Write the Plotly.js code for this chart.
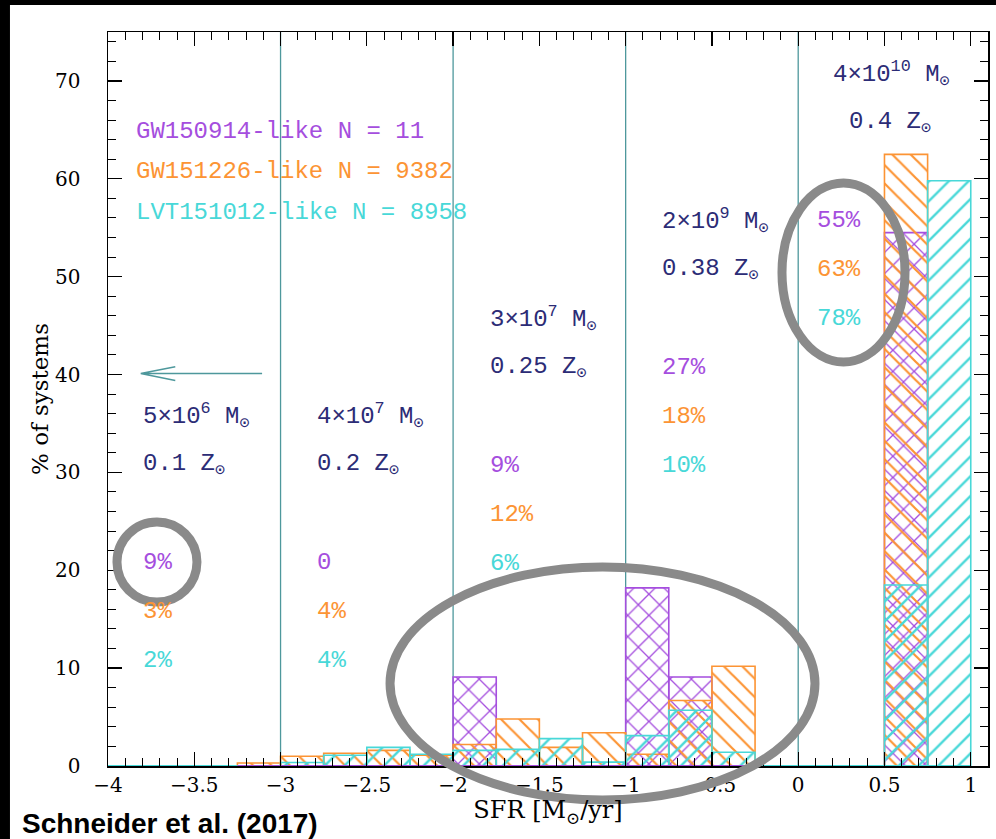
<!DOCTYPE html>
<html>
<head>
<meta charset="utf-8">
<script src="https://cdn.plot.ly/plotly-3.0.1.min.js"></script>
<style>
html,body{margin:0;padding:0;background:#fff;}
#chart{width:996px;height:839px;}
</style>
</head>
<body>
<div id="chart"></div>
<script>
// Bin centres (bin width 0.25 in log SFR)
const binCenters = [-3.125, -2.875, -2.625, -2.375, -2.125, -1.875, -1.625, -1.375, -1.125, -0.875, -0.625, -0.375, -0.125, 0.125, 0.375, 0.625, 0.875];
const gw150914 = [0, 0, 0, 0, 0, 9.1, 0, 0, 0, 18.2, 9.1, 0, 0, 0, 0, 54.5, 0];
const gw151226 = [0.3, 1.0, 1.3, 1.6, 1.1, 2.2, 4.8, 1.9, 3.4, 1.2, 6.7, 10.2, 0, 0, 0, 62.5, 0];
const lvt151012 = [0, 0.35, 1.1, 1.9, 1.2, 1.6, 1.7, 2.8, 0.4, 3.1, 5.7, 1.4, 0, 0, 0, 18.5, 59.8];

// histogram extents (zero-level lines)
const purpleSpan = [-3.25, -0.25];
const cyanSpan = [-4, 1];

// region separators
const regionEdges = [-3, -2, -1, 0];

// legend labels
const legendLabels = ["GW150914-like N = 11", "GW151226-like N = 9382", "LVT151012-like N = 8958"];

// host galaxy labels per region
const massLabels = ["5×10<sup>6</sup> M<sub>⊙</sub>", "4×10<sup>7</sup> M<sub>⊙</sub>", "3×10<sup>7</sup> M<sub>⊙</sub>", "2×10<sup>9</sup> M<sub>⊙</sub>", "4×10<sup>10</sup> M<sub>⊙</sub>"];
const metalLabels = ["0.1 Z<sub>⊙</sub>", "0.2 Z<sub>⊙</sub>", "0.25 Z<sub>⊙</sub>", "0.38 Z<sub>⊙</sub>", "0.4 Z<sub>⊙</sub>"];
const pctPurple = ["9%", "0", "9%", "27%", "55%"];
const pctOrange = ["3%", "4%", "12%", "18%", "63%"];
const pctCyan = ["2%", "4%", "6%", "10%", "78%"];

// positions of text blocks (data coords)
const pctX = [-3.81, -2.80, -1.80, -0.80, 0.10];
const massY = [35.8, 35.8, 45.7, 55.7, 70.7];
const massX = [-3.81, -2.80, -1.80, -0.80, 0.19];
const metalX = [-3.81, -2.80, -1.80, -0.80, 0.28];
const pctTopY = [20.8, 20.8, 30.7, 40.7, 55.7];

const PURPLE = "rgb(165,78,222)";
const ORANGE = "rgb(252,148,52)";
const CYAN = "rgb(72,216,216)";
const NAVY = "rgb(44,44,118)";
const TEAL = "rgb(78,152,156)";
const GRAY = "rgb(138,138,138)";

function barTrace(y, color, shape, size) {
  return {
    type: "bar", x: binCenters, y: y, width: 0.25,
    marker: {
      color: "rgba(0,0,0,0)",
      line: {color: color, width: 1.6},
      pattern: {shape: shape, fgcolor: color, fgopacity: 1, bgcolor: "rgba(0,0,0,0)", size: size, solidity: 0.17, fillmode: "overlay"}
    },
    hoverinfo: "skip"
  };
}

const traces = [
  {type: "scatter", mode: "lines", x: cyanSpan, y: [0, 0], line: {color: CYAN, width: 2}, cliponaxis: false, hoverinfo: "skip"},
  {type: "scatter", mode: "lines", x: purpleSpan, y: [0, 0], line: {color: PURPLE, width: 2}, cliponaxis: false, hoverinfo: "skip"},
  barTrace(gw150914, PURPLE, "x", 15),
  barTrace(gw151226, ORANGE, "\\", 13),
  barTrace(lvt151012, CYAN, "/", 14)
];

const monoFont = {family: "Liberation Mono, DejaVu Sans Mono, monospace", size: 24};
const annotations = [];
const legendColors = [PURPLE, ORANGE, CYAN];
const legendY = [64.8, 60.7, 56.6];
legendLabels.forEach((t, i) => annotations.push({
  x: -3.85, y: legendY[i], xref: "x", yref: "y", text: t, showarrow: false,
  xanchor: "left", yanchor: "middle", font: Object.assign({}, monoFont, {color: legendColors[i]})
}));
for (let i = 0; i < 5; i++) {
  annotations.push({x: massX[i], y: massY[i], xref: "x", yref: "y", text: massLabels[i], showarrow: false,
    xanchor: "left", yanchor: "middle", font: Object.assign({}, monoFont, {color: NAVY})});
  annotations.push({x: metalX[i], y: massY[i] - 5, xref: "x", yref: "y", text: metalLabels[i], showarrow: false,
    xanchor: "left", yanchor: "middle", font: Object.assign({}, monoFont, {color: NAVY})});
  [[pctPurple, PURPLE], [pctOrange, ORANGE], [pctCyan, CYAN]].forEach((p, j) => {
    annotations.push({x: pctX[i], y: pctTopY[i] - 5 * j, xref: "x", yref: "y", text: p[0][i], showarrow: false,
      xanchor: "left", yanchor: "middle", font: Object.assign({}, monoFont, {color: p[1]})});
  });
}
annotations.push({x: -0.1, y: -0.078, xref: "paper", yref: "paper", text: "<b>Schneider et al. (2017)</b>",
  showarrow: false, xanchor: "left", yanchor: "middle",
  font: {family: "Liberation Sans, Arial, sans-serif", size: 28, color: "black"}});

const shapes = [];
regionEdges.forEach(e => shapes.push({type: "line", xref: "x", yref: "paper", x0: e, x1: e, y0: 0, y1: 1,
  line: {color: TEAL, width: 1.3}, layer: "below"}));
// left-pointing arrow
shapes.push({type: "path", xref: "x", yref: "y", path: "M -3.107 40.1 L -3.81 40.1 M -3.61 40.8 L -3.81 40.1 L -3.61 39.4",
  line: {color: TEAL, width: 1.5}, layer: "above"});
// highlight ellipses (paper coords)
shapes.push({type: "circle", xref: "paper", yref: "paper", x0: 0.0102, x1: 0.1011, y0: 0.2234, y1: 0.3324, line: {color: GRAY, width: 9}});
shapes.push({type: "circle", xref: "paper", yref: "paper", x0: 0.3205, x1: 0.8034, y0: -0.0463, y1: 0.2711, line: {color: GRAY, width: 9}});
shapes.push({type: "circle", xref: "paper", yref: "paper", x0: 0.7659, x1: 0.9057, y0: 0.5504, y1: 0.7943, line: {color: GRAY, width: 9}});
// black frame edges
shapes.push({type: "rect", xref: "paper", yref: "paper", x0: -0.13, x1: 1.02, y0: 1.0368, y1: 1.05, line: {width: 0}, fillcolor: "black"});
shapes.push({type: "rect", xref: "paper", yref: "paper", x0: -0.13, x1: -0.1114, y0: -0.11, y1: 1.05, line: {width: 0}, fillcolor: "black"});

const tickFont = {family: "DejaVu Serif, serif", size: 20, color: "black"};
const layout = {
  width: 996, height: 839,
  margin: {l: 108, r: 8, t: 32, b: 73},
  paper_bgcolor: "white", plot_bgcolor: "white",
  showlegend: false, barmode: "overlay",
  xaxis: {
    range: [-4, 1.1], tick0: -4, dtick: 0.5, ticks: "inside", ticklen: 14, tickwidth: 1.3, tickcolor: "black",
    minor: {dtick: 0.1, ticklen: 8, tickwidth: 1, tickcolor: "black", ticks: "inside"},
    showline: true, linecolor: "black", linewidth: 1.5, mirror: "ticks", showgrid: false, zeroline: false,
    tickfont: tickFont,
    title: {text: "SFR [M<sub>⊙</sub>/yr]", font: {family: "DejaVu Serif, serif", size: 24, color: "black"}, standoff: 0}
  },
  yaxis: {
    range: [0, 75], tick0: 0, dtick: 10, ticks: "inside", ticklen: 14, tickwidth: 1.3, tickcolor: "black",
    minor: {dtick: 2, ticklen: 8, tickwidth: 1, tickcolor: "black", ticks: "inside"},
    showline: true, linecolor: "black", linewidth: 1.5, mirror: "ticks", showgrid: false, zeroline: false,
    tickfont: tickFont, ticklabelstandoff: 22,
    title: {text: "% of systems", font: {family: "DejaVu Serif, serif", size: 23, color: "black"}, standoff: 0}
  },
  annotations: annotations,
  shapes: shapes
};

Plotly.newPlot("chart", traces, layout, {displayModeBar: false, staticPlot: true});
</script>
</body>
</html>
